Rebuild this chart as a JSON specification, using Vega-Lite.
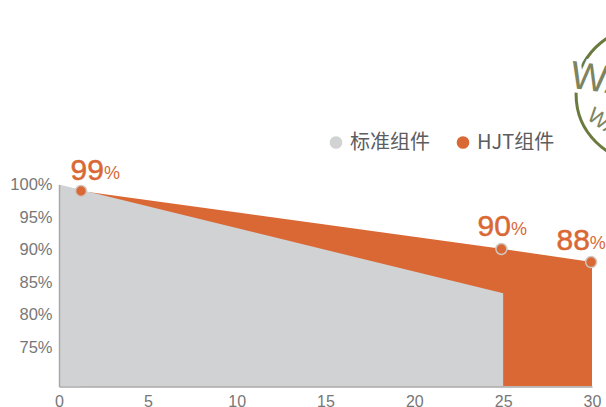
{"$schema":"https://vega.github.io/schema/vega-lite/v6.json","width":533,"height":202,"autosize":"none","padding":{"left":59,"top":184.5,"right":14,"bottom":20.5},"background":"white","config":{"view":{"stroke":null},"font":"Liberation Sans"},
"datasets":{"areas":[{"s":"HJT组件","x":1.24,"v":99},{"s":"HJT组件","x":25,"v":90.1},{"s":"HJT组件","x":30,"v":88.1},{"s":"标准组件","x":0,"v":100},{"s":"标准组件","x":25,"v":83.3}],"pts":[{"x":1.24,"v":99},{"x":24.9,"v":90.1},{"x":29.95,"v":88.1}],"labels":[{"x":2.53,"v":102.1,"t":"99","p":"%"},{"x":25.44,"v":93.5,"t":"90","p":"%"},{"x":29.88,"v":91.3,"t":"88","p":"%"}],"logo":[{"x":32.86,"v":113.8}],"logotext":[{"x":28.8,"v":116.7,"t":"WA","s":39,"a":8},{"x":29.88,"v":111,"t":"WA","s":22,"a":35}]},
"layer":[
{"data":{"name":"areas"},"mark":{"type":"area","interpolate":"linear","clip":true},"encoding":{"x":{"field":"x","type":"quantitative","scale":{"domain":[0,30]},"axis":{"values":[0,5,10,15,20,25,30],"grid":false,"ticks":false,"domainColor":"#a8a8a8","domainWidth":1.5,"labelColor":"#777777","labelFontSize":16,"labelPadding":7,"labelFlush":false,"labelFont":"Liberation Sans","title":null,"zindex":1}},"y":{"field":"v","type":"quantitative","stack":null,"scale":{"domain":[69,100],"nice":false,"zero":false},"axis":{"values":[75,80,85,90,95,100],"labelExpr":"datum.value+'%'","grid":false,"ticks":false,"domainColor":"#a8a8a8","domainWidth":1.5,"labelColor":"#777777","labelFontSize":16.5,"labelPadding":7,"labelFlush":false,"labelFont":"Liberation Sans","title":null,"zindex":1}},"color":{"field":"s","type":"nominal","scale":{"domain":["标准组件","HJT组件"],"range":["#d0d2d3","#d96835"]},"legend":{"orient":"none","direction":"horizontal","legendX":267,"legendY":-52,"title":null,"symbolType":"circle","symbolSize":160,"labelFontSize":20,"labelColor":"#5c5c5e","labelFont":"Noto Sans CJK SC","columnPadding":23,"labelOffset":4,"symbolStrokeWidth":0}}}},
{"data":{"name":"pts"},"mark":{"type":"point","filled":true,"fill":"#d96835","stroke":"#cfc7c0","strokeWidth":1.5,"size":120,"opacity":1},"encoding":{"x":{"field":"x","type":"quantitative"},"y":{"field":"v","type":"quantitative"}}},
{"data":{"name":"labels"},"mark":{"type":"text","color":"#d96835","stroke":"#d96835","strokeWidth":0.5,"fontSize":30,"font":"Liberation Sans","align":"right","baseline":"middle"},"encoding":{"x":{"field":"x","type":"quantitative"},"y":{"field":"v","type":"quantitative"},"text":{"field":"t"}}},
{"data":{"name":"labels"},"mark":{"type":"text","color":"#d96835","fontSize":18,"font":"Liberation Sans","align":"left","baseline":"middle","dy":3},"encoding":{"x":{"field":"x","type":"quantitative"},"y":{"field":"v","type":"quantitative"},"text":{"field":"p"}}},
{"data":{"name":"logo"},"mark":{"type":"point","filled":false,"color":"#6b7a3f","strokeWidth":3,"size":17800,"opacity":1},"encoding":{"x":{"field":"x","type":"quantitative"},"y":{"field":"v","type":"quantitative"}}},
{"data":{"name":"logotext"},"transform":[{"filter":"datum.s>30"}],"mark":{"type":"text","color":"white","stroke":"white","strokeWidth":8,"font":"Liberation Sans","align":"left","baseline":"middle"},"encoding":{"x":{"field":"x","type":"quantitative"},"y":{"field":"v","type":"quantitative"},"text":{"field":"t"},"size":{"field":"s","type":"quantitative","scale":null,"legend":null},"angle":{"field":"a","type":"quantitative","scale":null,"legend":null}}},
{"data":{"name":"logotext"},"mark":{"type":"text","color":"#7c8560","font":"Liberation Sans","align":"left","baseline":"middle"},"encoding":{"x":{"field":"x","type":"quantitative"},"y":{"field":"v","type":"quantitative"},"text":{"field":"t"},"size":{"field":"s","type":"quantitative","scale":null,"legend":null},"angle":{"field":"a","type":"quantitative","scale":null,"legend":null}}}
]}
